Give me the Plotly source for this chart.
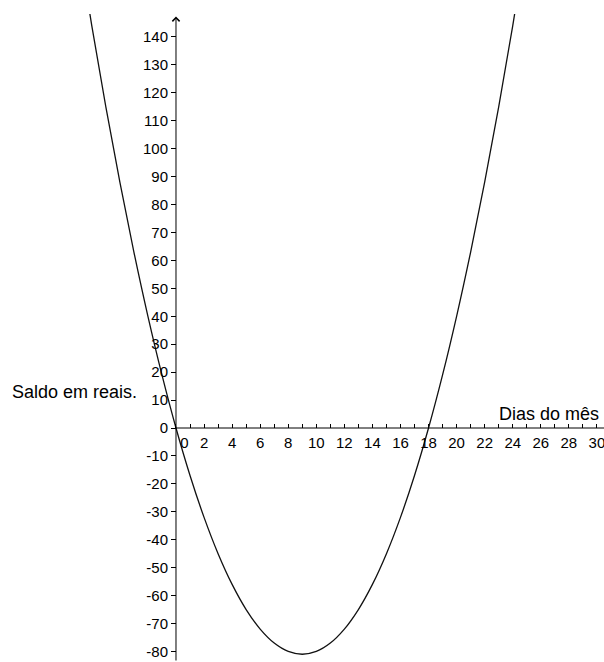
import plotly.graph_objects as go

# Daily balance (R$) over the days of the month
dias = [-7, -6, -5, -4, -3, -2, -1, 0, 1, 2, 3, 4, 5, 6, 7, 8, 9,
        10, 11, 12, 13, 14, 15, 16, 17, 18, 19, 20, 21, 22, 23, 24, 25]
saldo = [175, 144, 115, 88, 63, 40, 19, 0, -17, -32, -45, -56, -65, -72, -77, -80, -81,
         -80, -77, -72, -65, -56, -45, -32, -17, 0, 19, 40, 63, 88, 115, 144, 175]

# Axis ticks
x_ticks = list(range(0, 31))
x_labels = ["\u00a0\u00a0\u00a0\u00a00" if v == 0 else (str(v) if v % 2 == 0 else "") for v in x_ticks]
y_ticks = list(range(-80, 141, 10))
y_labels = [str(v) for v in y_ticks]

x_range = [-12.544, 30.506]
y_range = [-83.78, 148.23]

FONT = "Liberation Sans, Arial, sans-serif"

fig = go.Figure()
fig.add_trace(go.Scatter(
    x=dias, y=saldo, mode="lines",
    line=dict(color="#111111", width=1.3, shape="spline", smoothing=1.0),
    hoverinfo="skip", showlegend=False,
))

x_pos = (0 - y_range[0]) / (y_range[1] - y_range[0])
y_pos = (0 - x_range[0]) / (x_range[1] - x_range[0])

fig.update_layout(
    width=604, height=662,
    margin=dict(l=0, r=0, t=14, b=0),
    paper_bgcolor="white", plot_bgcolor="white",
    font=dict(family=FONT, size=15, color="black"),
    xaxis=dict(
        range=x_range, anchor="free", position=x_pos,
        showgrid=False, zeroline=False, showline=False,
        tickmode="array", tickvals=x_ticks, ticktext=x_labels,
        ticks="inside", ticklen=4, tickwidth=1, tickcolor="black",
        tickfont=dict(size=15, color="black"),
        ticklabeloverflow="allow", ticklabelstandoff=4,
    ),
    yaxis=dict(
        range=y_range, anchor="free", position=y_pos,
        showgrid=False, zeroline=False, showline=False,
        tickmode="array", tickvals=y_ticks, ticktext=y_labels,
        ticks="outside", ticklen=5, tickwidth=1, tickcolor="black",
        tickfont=dict(size=15, color="black"),
    ),
)

# Horizontal axis line (days start at 0)
fig.add_shape(type="line", xref="x", yref="y",
              x0=0, y0=0, x1=x_range[1], y1=0,
              line=dict(color="black", width=1))

# Vertical axis with arrow at the top
fig.add_annotation(x=0, y=147.3, ax=0, ay=y_range[0],
                   xref="x", yref="y", axref="x", ayref="y",
                   text="", showarrow=True, arrowhead=4, arrowsize=1.4,
                   arrowwidth=1, arrowcolor="black")

# Axis titles
fig.add_annotation(x=-11.85, y=12.9, xref="x", yref="y",
                   text="Saldo em reais.", showarrow=False,
                   xanchor="left", yanchor="middle",
                   font=dict(family=FONT, size=18, color="black"))
fig.add_annotation(x=30.3, y=4.9, xref="x", yref="y",
                   text="Dias do mês", showarrow=False,
                   xanchor="right", yanchor="middle",
                   font=dict(family=FONT, size=18, color="black"))

fig.write_html("out.html")
